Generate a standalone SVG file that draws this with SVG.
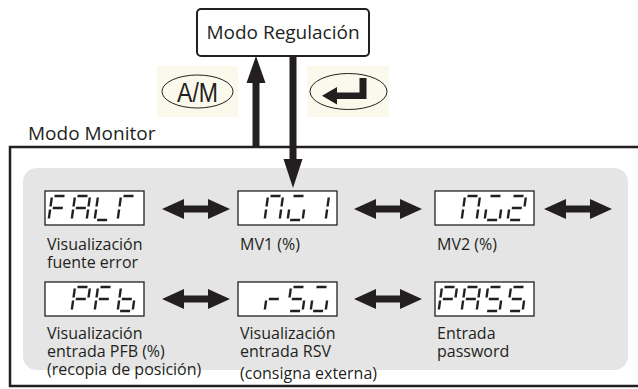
<svg xmlns="http://www.w3.org/2000/svg" width="638" height="389" viewBox="0 0 638 389">
<style>
  .lbl { font-family: "Open Sans", "Noto Sans", "DejaVu Sans", sans-serif; font-size: 16px; fill: #231f20; }
  .ttl { font-family: "Open Sans", "Noto Sans", "DejaVu Sans", sans-serif; font-size: 19px; fill: #231f20; }
  .key { font-family: "Liberation Sans", Arial, sans-serif; font-size: 27px; fill: #231f20; }
  .disp { fill: #ffffff; stroke: #231f20; stroke-width: 1.3; }
  .seg { stroke: #231f20; stroke-width: 2.4; fill: none; }
  .arr { fill: #231f20; }
  .oval { fill: none; stroke: #231f20; stroke-width: 1; }
  .kbg { fill: #fbf9ec; }
</style>
<defs>
  <path id="sa" d="M2.5,0H12.5" class="seg"/>
  <path id="sb" d="M15,1.5V10.5" class="seg"/>
  <path id="sc" d="M15,13.5V22.5" class="seg"/>
  <path id="sd" d="M2.5,24H12.5" class="seg"/>
  <path id="se" d="M0,13.5V22.5" class="seg"/>
  <path id="sf" d="M0,1.5V10.5" class="seg"/>
  <path id="sg" d="M2.5,12H12.5" class="seg"/>
  <path id="darr" d="M-34,0L-12,-10L-12,-3.5L12,-3.5L12,-10L34,0L12,10L12,3.5L-12,3.5L-12,10Z" class="arr"/>
</defs>

<g id="modo-monitor">
  <text class="ttl" x="28" y="140">Modo Monitor</text>
  <path d="M638,147H10V386H638" fill="none" stroke="#231f20" stroke-width="2.5"/>
  <rect x="23" y="168" width="605" height="202" rx="14" fill="#e5e5e5"/>
</g>

<g id="modo-regulacion">
  <rect x="197" y="9" width="172" height="47" rx="4" fill="#ffffff" stroke="#231f20" stroke-width="2"/>
  <text class="ttl" x="283" y="39" text-anchor="middle">Modo Regulación</text>
</g>

<g id="key-am">
  <rect class="kbg" x="157" y="66" width="81" height="51"/>
  <ellipse class="oval" cx="197.5" cy="91.5" rx="35.5" ry="16.5"/>
  <text class="key" x="197.5" y="102" text-anchor="middle" textLength="41" lengthAdjust="spacingAndGlyphs">A/M</text>
</g>

<g id="key-enter">
  <rect class="kbg" x="307" y="66" width="82" height="51"/>
  <ellipse class="oval" cx="348.5" cy="91.5" rx="38.5" ry="18"/>
  <path d="M359.5,78H366.5V99H336V92.5H359.5Z M322,95.75L337,87L337,104.5Z" class="arr"/>
</g>

<g id="disp-falt">
  <rect class="disp" x="45" y="191" width="99" height="34"/>
  <g transform="translate(52,196) skewX(-8)"><use href="#sa"/><use href="#sf"/><use href="#se"/><use href="#sg"/></g>
  <g transform="translate(75,196) skewX(-8)"><use href="#sa"/><use href="#sb"/><use href="#sc"/><use href="#se"/><use href="#sf"/><use href="#sg"/></g>
  <g transform="translate(98,196) skewX(-8)"><use href="#sf"/><use href="#se"/><use href="#sd"/></g>
  <g transform="translate(121,196) skewX(-8)"><use href="#sa"/><use href="#sf"/><use href="#se"/></g>
  <text class="lbl" x="47" y="250">Visualización<tspan x="47" dy="18">fuente error</tspan></text>
</g>

<g id="disp-mv1">
  <rect class="disp" x="238" y="191" width="99" height="34"/>
  <g transform="translate(268,196) skewX(-8)"><use href="#sa"/><use href="#sb"/><use href="#sc"/><use href="#se"/><use href="#sf"/></g>
  <g transform="translate(291,196) skewX(-8)"><use href="#sa"/><use href="#sc"/><use href="#sd"/><use href="#se"/></g>
  <g transform="translate(314,196) skewX(-8)"><use href="#sb"/><use href="#sc"/></g>
  <text class="lbl" x="240" y="250">MV1 (%)</text>
</g>

<g id="disp-mv2">
  <rect class="disp" x="435" y="191" width="99" height="34"/>
  <g transform="translate(465,196) skewX(-8)"><use href="#sa"/><use href="#sb"/><use href="#sc"/><use href="#se"/><use href="#sf"/></g>
  <g transform="translate(488,196) skewX(-8)"><use href="#sa"/><use href="#sc"/><use href="#sd"/><use href="#se"/></g>
  <g transform="translate(511,196) skewX(-8)"><use href="#sa"/><use href="#sb"/><use href="#sg"/><use href="#se"/><use href="#sd"/></g>
  <text class="lbl" x="437" y="250">MV2 (%)</text>
</g>

<g id="disp-pfb">
  <rect class="disp" x="45" y="282" width="99" height="34"/>
  <g transform="translate(75,287) skewX(-8)"><use href="#sa"/><use href="#sb"/><use href="#se"/><use href="#sf"/><use href="#sg"/></g>
  <g transform="translate(98,287) skewX(-8)"><use href="#sa"/><use href="#se"/><use href="#sf"/><use href="#sg"/></g>
  <g transform="translate(121,287) skewX(-8)"><use href="#sc"/><use href="#sd"/><use href="#se"/><use href="#sf"/><use href="#sg"/></g>
  <text class="lbl" x="47" y="339">Visualización<tspan x="47" dy="18">entrada PFB (%)</tspan><tspan x="47" dy="18">(recopia de posición)</tspan></text>
</g>

<g id="disp-rsv">
  <rect class="disp" x="238" y="282" width="99" height="34"/>
  <g transform="translate(268,287) skewX(-8)"><use href="#se"/><use href="#sg"/></g>
  <g transform="translate(291,287) skewX(-8)"><use href="#sa"/><use href="#sf"/><use href="#sg"/><use href="#sc"/><use href="#sd"/></g>
  <g transform="translate(314,287) skewX(-8)"><use href="#sa"/><use href="#sc"/><use href="#sd"/><use href="#se"/></g>
  <text class="lbl" x="240" y="339">Visualización<tspan x="240" dy="18">entrada RSV</tspan><tspan x="240" dy="22">(consigna externa)</tspan></text>
</g>

<g id="disp-pass">
  <rect class="disp" x="435" y="282" width="99" height="34"/>
  <g transform="translate(442,287) skewX(-8)"><use href="#sa"/><use href="#sb"/><use href="#se"/><use href="#sf"/><use href="#sg"/></g>
  <g transform="translate(465,287) skewX(-8)"><use href="#sa"/><use href="#sb"/><use href="#sc"/><use href="#se"/><use href="#sf"/><use href="#sg"/></g>
  <g transform="translate(488,287) skewX(-8)"><use href="#sa"/><use href="#sf"/><use href="#sg"/><use href="#sc"/><use href="#sd"/></g>
  <g transform="translate(511,287) skewX(-8)"><use href="#sa"/><use href="#sf"/><use href="#sg"/><use href="#sc"/><use href="#sd"/></g>
  <text class="lbl" x="437" y="339">Entrada<tspan x="437" dy="18">password</tspan></text>
</g>

<g id="connectors">
  <path class="arr" d="M252.5,147V83H246.5L256,56L265.5,83H259.5V147Z"/>
  <path class="arr" d="M289.5,56H296.5V159H302.5L293,188L283.5,159H289.5Z"/>
  <use href="#darr" x="196" y="209"/>
  <use href="#darr" x="388" y="209"/>
  <use href="#darr" x="578" y="209"/>
  <use href="#darr" x="196" y="299"/>
  <use href="#darr" x="388" y="299"/>
</g>
</svg>
